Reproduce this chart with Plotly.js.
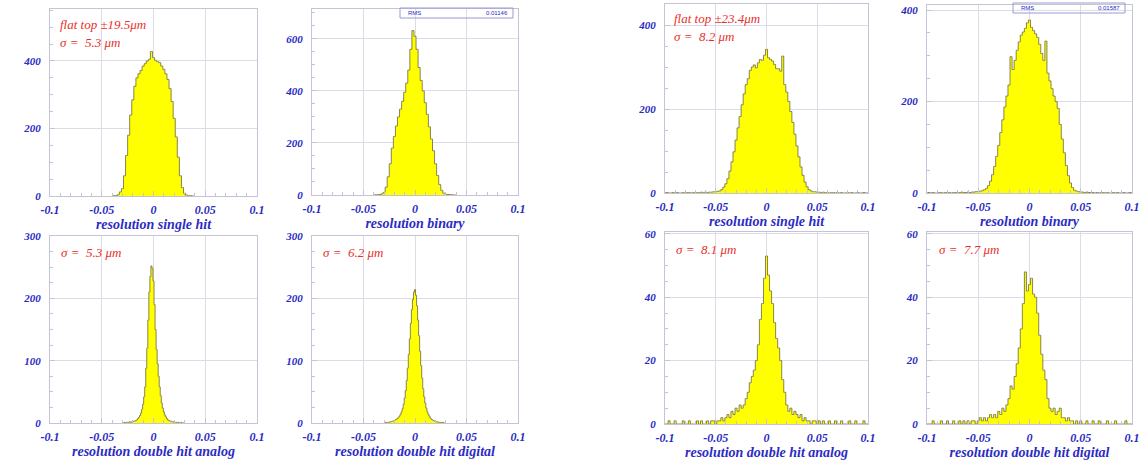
<!DOCTYPE html>
<html>
<head>
<meta charset="utf-8">
<script src="https://cdn.plot.ly/plotly-3.0.1.min.js"></script>
<style>html,body{margin:0;padding:0;background:#fff;}#chart{width:1146px;height:466px;}</style>
</head>
<body>
<div id="chart"></div>
<script>
// ---------------- DATA ----------------
const xTickVals = [-0.1, -0.05, 0, 0.05, 0.1];
const xTickText = ["-0.1", "-0.05", "0", "0.05", "0.1"];
const axisTitles = ["resolution single hit", "resolution binary", "resolution double hit analog", "resolution double hit digital",
                    "resolution single hit", "resolution binary", "resolution double hit analog", "resolution double hit digital"];
const labelLines = [["flat top \u00b119.5\u03bcm", "\u03c3 =  5.3 \u03bcm"], ["\u03c3 =  5.3 \u03bcm"], ["\u03c3 =  6.2 \u03bcm"],
                    ["flat top \u00b123.4\u03bcm", "\u03c3 =  8.2 \u03bcm"], ["\u03c3 =  8.1 \u03bcm"], ["\u03c3 =  7.7 \u03bcm"]];

// bin start (centre of first bin) and bin widths
const binStart = [-0.04, -0.04, -0.03, -0.03, -0.1, -0.1, -0.1, -0.1];
const binWidth = [0.002, 0.002, 0.001, 0.001, 0.002, 0.002, 0.002, 0.002];

const countsSingleLeft = [0,1,1,4,12,22,60,120,180,240,285,325,350,362,372,385,392,400,405,428,410,402,398,395,385,375,362,345,318,280,230,175,115,60,25,8,3,1,1,0,0];
const countsBinaryLeft = [0,1,1,2,4,10,30,70,120,180,225,265,300,330,360,395,430,480,560,632,610,560,490,440,400,355,310,262,215,170,120,75,40,18,7,3,2,1,1,0,0];
const countsAnalogLeft = [0,0,1,0,1,1,1,2,1,2,2,3,3,4,5,7,9,12,16,22,30,42,58,88,120,165,210,235,252,248,228,190,150,118,95,75,58,44,32,24,18,13,10,7,5,4,3,3,2,2,1,1,1,0,1,0,0,1,0,0,0];
const countsDigitalLeft = [0,1,0,1,1,1,2,2,3,3,4,5,6,7,9,11,14,18,23,30,40,52,68,88,110,135,160,182,198,210,214,205,188,165,140,115,92,72,55,42,32,24,18,14,11,8,6,5,4,3,3,2,2,1,1,1,0,1,0,0,0];
const countsSingleRight = [0,1,0,0,1,0,1,0,0,1,0,1,1,0,1,0,1,1,2,1,2,1,2,2,3,3,4,5,8,14,22,34,52,74,98,126,155,182,210,236,258,272,292,300,305,298,310,318,316,328,342,322,318,314,306,296,296,290,326,258,240,218,194,168,140,112,86,62,42,26,15,8,5,3,3,2,2,1,2,1,1,0,1,1,0,1,0,1,0,0,1,0,1,0,0,1,0,0,1,0,0];
const countsBinaryRight = [0,1,0,1,0,0,1,1,0,1,0,1,0,1,1,0,1,2,1,1,2,1,2,2,3,3,4,5,7,10,16,26,40,58,80,104,132,160,188,212,236,298,270,290,312,330,345,352,360,372,378,362,355,348,340,325,305,290,332,262,245,228,212,200,185,150,118,88,60,38,22,12,6,4,3,2,2,1,2,1,1,1,0,1,0,1,1,0,1,0,0,1,0,1,0,0,1,0,0,1,0];
const countsAnalogRight = [0,0,1,0,0,1,0,0,0,1,0,0,1,0,0,0,1,0,1,0,0,1,0,1,1,0,1,1,2,1,2,3,2,4,3,5,4,6,5,6,8,10,13,15,17,20,25,33,38,46,53,47,42,38,32,27,24,20,14,10,6,4,5,3,4,3,2,3,1,2,1,1,0,1,1,0,1,0,1,0,0,1,0,0,1,0,0,1,0,0,0,1,0,0,1,0,0,0,1,0,0];
const countsDigitalRight = [0,0,0,1,0,0,0,1,0,0,1,0,0,1,0,0,1,0,1,0,1,0,1,1,0,1,2,1,2,1,2,3,2,3,2,4,3,5,4,6,8,12,11,15,19,24,30,38,48,42,44,46,41,40,35,28,22,17,14,8,5,4,5,3,4,5,2,2,1,2,1,1,0,1,0,1,0,0,1,0,0,1,0,0,1,0,0,0,1,0,0,0,1,0,0,0,0,1,0,0,0];
const allCounts = [countsSingleLeft, countsBinaryLeft, countsAnalogLeft, countsDigitalLeft,
                   countsSingleRight, countsBinaryRight, countsAnalogRight, countsDigitalRight];

const yMax = [554, 715, 300, 300, 450, 411, 60.6, 60.6];
const yTickStep = [200, 200, 100, 100, 200, 200, 20, 20];
const statsText = ["RMS", "0.01146", "RMS", "0.01587"];

// ---------------- LAYOUT ----------------
const W = 1146, H = 466;
// frame boxes in px: [left, right, top, bottom]
const boxes = [
  [50, 257, 9, 196], [312, 518, 9, 195], [50, 257, 236, 423], [312, 518, 236, 423],
  [665, 868, 4, 193], [927, 1132, 5, 193], [665, 868, 232, 424], [927, 1132, 232, 424]
];
const blue = '#2b2bc4';
const tickFont = {family: 'Liberation Serif, DejaVu Serif, serif', size: 12, color: blue, weight: 'bold', style: 'italic'};
const yTickFont = {family: 'Liberation Serif, DejaVu Serif, serif', size: 11, color: blue, weight: 'bold', style: 'italic'};
const titleFont = {family: 'Liberation Serif, DejaVu Serif, serif', size: 14, color: blue, weight: 'bold', style: 'italic'};
const redFont = {family: 'Liberation Serif, DejaVu Serif, serif', size: 13, color: '#e8302a', style: 'italic'};
const frameColor = '#c4c4d6';
const gridColor = '#dcdce8';

const traces = [];
const layout = {
  width: W, height: H, margin: {l: 0, r: 0, t: 0, b: 0},
  paper_bgcolor: '#ffffff', plot_bgcolor: '#ffffff', showlegend: false,
  annotations: [], shapes: []
};
const px2x = p => p / W;
const px2y = p => 1 - p / H;

for (let k = 0; k < 8; k++) {
  const id = k + 1;
  const b = boxes[k];
  traces.push({
    type: 'scatter', mode: 'lines',
    x0: binStart[k], dx: binWidth[k], y: allCounts[k],
    line: {shape: 'hvh', color: '#7c7844', width: 0.9},
    fill: 'tozeroy', fillcolor: '#ffff00',
    xaxis: 'x' + id, yaxis: 'y' + id, hoverinfo: 'skip'
  });
  const yt = [];
  for (let v = 0; v <= yMax[k] + 0.01; v += yTickStep[k]) yt.push(v);
  layout['xaxis' + id] = {
    domain: [px2x(b[0]), px2x(b[1])], anchor: 'y' + id, range: [-0.1, 0.1],
    tickvals: xTickVals, ticktext: xTickText, tickfont: tickFont, ticklabelstandoff: 3,
    ticks: 'inside', ticklen: 5, tickcolor: frameColor,
    minor: {dtick: 0.01, ticks: 'inside', ticklen: 3, tickcolor: frameColor, showgrid: false},
    showgrid: true, gridcolor: gridColor, gridwidth: 1, zeroline: false,
    showline: true, linecolor: frameColor, linewidth: 1, mirror: true,
    title: {text: axisTitles[k], font: titleFont, standoff: 0},
    automargin: false, fixedrange: true
  };
  layout['yaxis' + id] = {
    domain: [px2y(b[3]), px2y(b[2])], anchor: 'x' + id, range: [0, yMax[k]],
    tickvals: yt, tickfont: yTickFont, ticklabelstandoff: 6,
    ticks: 'inside', ticklen: 5, tickcolor: frameColor,
    minor: {dtick: yTickStep[k] / 4, ticks: 'inside', ticklen: 3, tickcolor: frameColor, showgrid: false},
    showgrid: true, gridcolor: gridColor, gridwidth: 1, zeroline: false,
    showline: true, linecolor: frameColor, linewidth: 1, mirror: true,
    automargin: false, fixedrange: true
  };
}

// red labels: [subplot index, label index, x px, first line y px]
const labelPos = [[0, 0, 58, 25], [2, 1, 59, 252], [3, 2, 321, 252], [4, 3, 672, 18], [6, 4, 674, 250], [7, 5, 937, 250]];
labelPos.forEach(([k, li, x, y]) => {
  labelLines[li].forEach((t, j) => {
    layout.annotations.push({
      xref: 'paper', yref: 'paper', x: px2x(x), y: px2y(y + j * 18),
      xanchor: 'left', yanchor: 'middle', text: t, showarrow: false, font: redFont
    });
  });
});

// stats boxes in binary panels
const statBoxes = [[400, 513, 8, 18], [1013, 1125, 3, 13]];
statBoxes.forEach((sb, i) => {
  layout.shapes.push({type: 'rect', xref: 'paper', yref: 'paper',
    x0: px2x(sb[0]), x1: px2x(sb[1]), y0: px2y(sb[3]), y1: px2y(sb[2]),
    line: {color: '#9a9ad0', width: 1}, fillcolor: 'rgba(255,255,255,0)'});
  layout.annotations.push({xref: 'paper', yref: 'paper', x: px2x(sb[0] + 6), y: px2y((sb[2] + sb[3]) / 2),
    xanchor: 'left', yanchor: 'middle', text: statsText[2 * i], showarrow: false,
    font: {family: 'Liberation Sans, sans-serif', size: 6, color: blue}});
  layout.annotations.push({xref: 'paper', yref: 'paper', x: px2x(sb[1] - 3), y: px2y((sb[2] + sb[3]) / 2),
    xanchor: 'right', yanchor: 'middle', text: statsText[2 * i + 1], showarrow: false,
    font: {family: 'Liberation Sans, sans-serif', size: 6, color: blue}});
});

Plotly.newPlot('chart', traces, layout, {displayModeBar: false, staticPlot: true});
</script>
</body>
</html>
